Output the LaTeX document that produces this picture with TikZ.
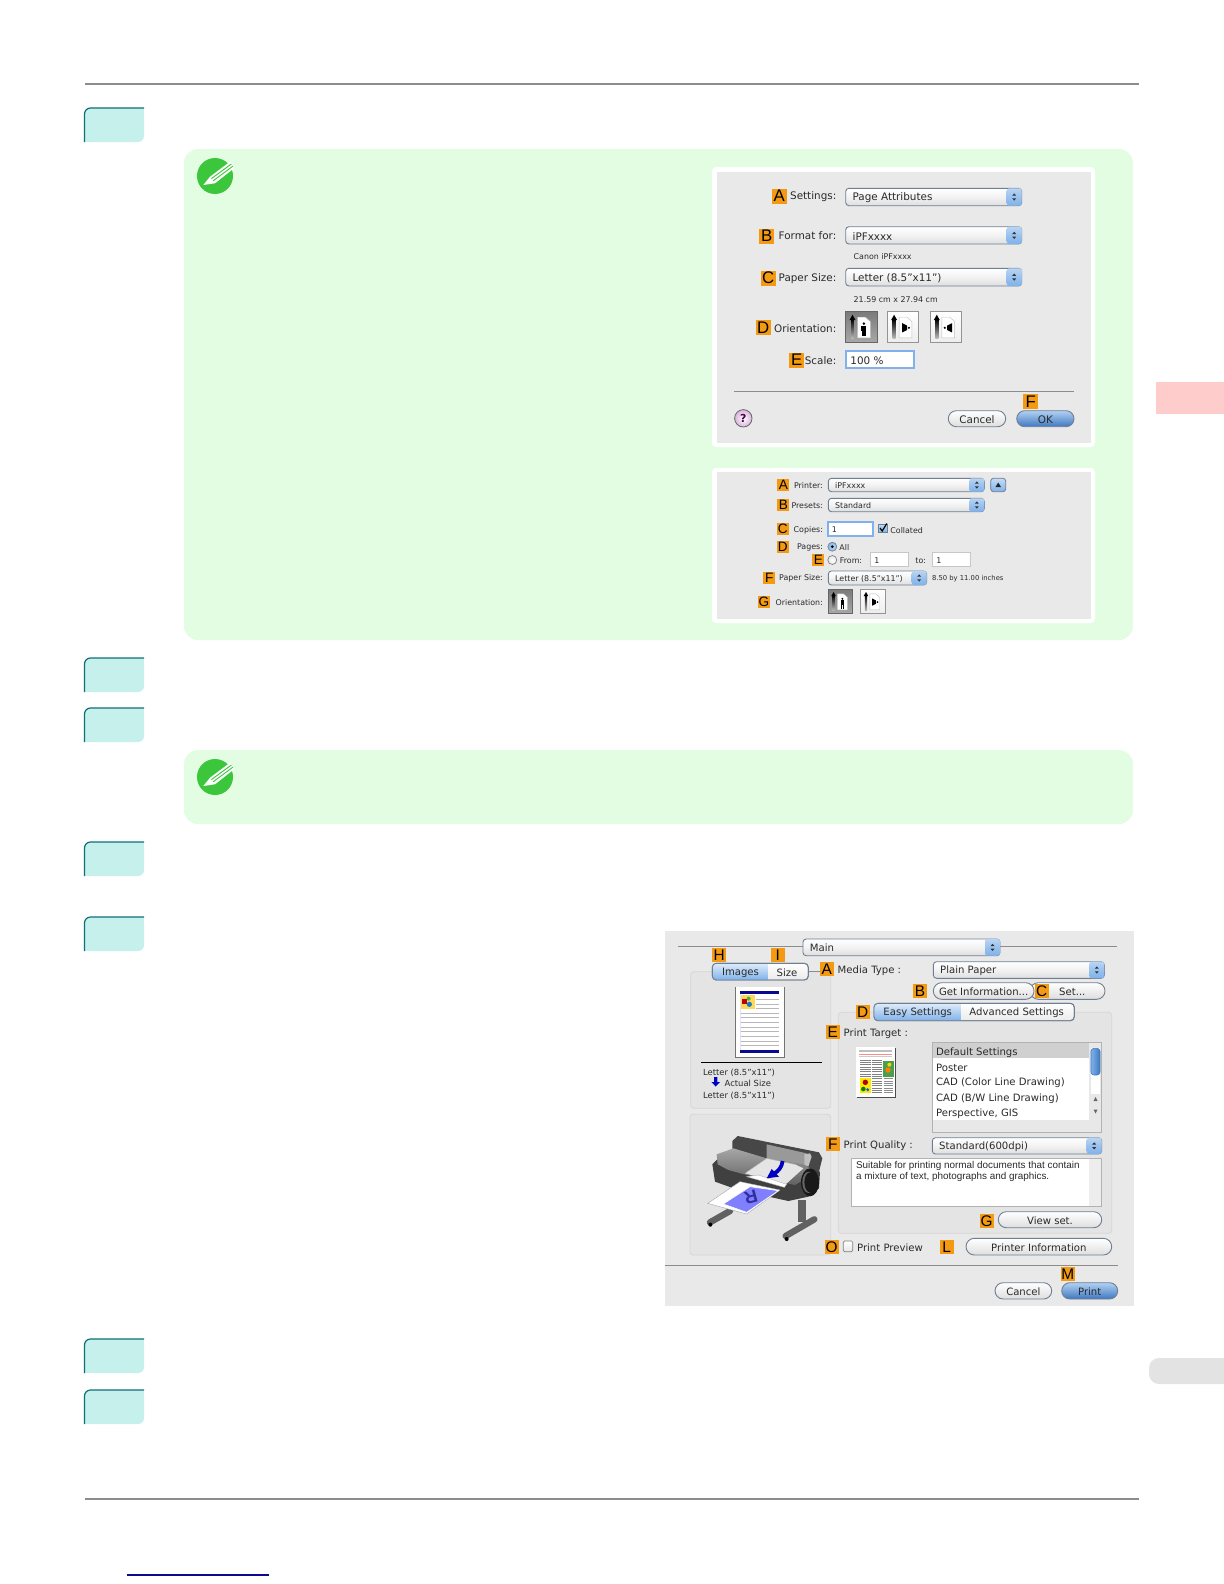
\documentclass[tikz,border=0pt]{standalone}
\usepackage{fontspec}
\setmainfont{DejaVu Sans}
\newfontfamily\lblfont{Liberation Sans}
\definecolor{panelg}{HTML}{E3FDE3}
\definecolor{tabc}{HTML}{C6F0EC}
\definecolor{tabl}{HTML}{0E6F78}
\definecolor{dlg}{HTML}{E9E9E9}
\definecolor{orlab}{HTML}{F39A12}
\definecolor{txt}{HTML}{2A2A2A}
\definecolor{bcap}{HTML}{7FB2EA}
\definecolor{bdark}{HTML}{3F78C0}
\definecolor{bedge}{HTML}{6E7F92}
\definecolor{sel}{HTML}{D0D0D0}
\definecolor{navy}{HTML}{0A0A90}
\definecolor{pgreen}{HTML}{3CC63C}
\tikzset{
  x=0.5pt,y=-0.5pt,
  olabel/.style={fill=orlab,minimum width=7.5pt,minimum height=7.5pt,inner sep=0pt,font=\lblfont\fontsize{8.4}{9}\selectfont,text=black},
  olb/.style={fill=orlab,minimum width=6pt,minimum height=6pt,inner sep=0pt,font=\lblfont\fontsize{6.8}{7}\selectfont,text=black},
  olc/.style={fill=orlab,minimum width=6.9pt,minimum height=6.9pt,inner sep=0pt,font=\lblfont\fontsize{7.7}{8}\selectfont,text=black},
  uil/.style={inner sep=0pt,anchor=west,text=txt,yshift=-.4pt},
  uir/.style={inner sep=0pt,anchor=east,text=txt,yshift=-.4pt},
  uic/.style={inner sep=0pt,anchor=center,text=txt,yshift=-.3pt},
  fa/.style={font=\fontsize{5.2}{6}\selectfont},
  fb/.style={font=\fontsize{3.95}{5}\selectfont},
  fc/.style={font=\fontsize{5.05}{6}\selectfont},
  fs/.style={font=\fontsize{3.4}{4}\selectfont},
  fd/.style={font=\lblfont\fontsize{4.95}{5.5}\selectfont},
  gbox/.style={fill=black!10.5,draw=black!16,line width=.4pt,rounded corners=1.5pt},
  field/.style={fill=white,draw=black!22,line width=.4pt},
  focusf/.style={fill=white,draw=bcap,line width=.9pt},
  rulel/.style={draw=black!45,line width=.5pt},
}
% step tab
\newcommand\steptab[2]{%
  \pgfmathsetmacro\tyb{#1+34}\pgfmathsetmacro\tym{#1+17}
  \fill[tabc,rounded corners=3pt] (84,#1) rectangle (144,\tyb);
  \fill[tabc] (84,\tym) rectangle (94,\tyb);
  \fill[tabc] (124,#1) rectangle (144,\tym);
  \draw[tabl,line width=.6pt,rounded corners=3pt] (84.5,\tyb) -- (84.5,#1) -- (144,#1);
  \coordinate (#2) at (84,#1);
}
% popup: name,x1,y1,x2,y2,style,text
\newcommand\popup[7]{%
  \pgfmathsetmacro\pxa{#4-15}\pgfmathsetmacro\pxm{#4-7.5}\pgfmathsetmacro\pym{(#3+#5)/2}\pgfmathsetmacro\ptx{#2+6.5}
  \pgfmathsetmacro\pau{\pym-1.3}\pgfmathsetmacro\pat{\pym-3.6}\pgfmathsetmacro\pad{\pym+1.3}\pgfmathsetmacro\pab{\pym+3.6}
  \pgfmathsetmacro\pql{\pxm-2}\pgfmathsetmacro\pqr{\pxm+2}
  \shade[top color=white,bottom color=black!13,middle color=black!5,rounded corners=1.6pt,draw=bedge,line width=.45pt] (#2,#3) rectangle (#4,#5);
  \shade[top color=bcap!55,bottom color=bcap,middle color=bcap!80,rounded corners=1.2pt] (\pxa,#3) rectangle (#4,#5);
  \fill[black!80] (\pql,\pau) -- (\pqr,\pau) -- (\pxm,\pat) -- cycle;
  \fill[black!80] (\pql,\pad) -- (\pqr,\pad) -- (\pxm,\pab) -- cycle;
  \node[uil,#6] (#1) at (\ptx,\pym) {#7};
}
% button: name,x1,y1,x2,y2,style,text,top,bottom
\newcommand\capsule[9]{%
  \pgfmathsetmacro\bxm{(#2+#4)/2}\pgfmathsetmacro\bym{(#3+#5)/2}\pgfmathsetmacro\brr{(#5-#3)/4}
  \shade[top color=#8,bottom color=#9,draw=bedge,line width=.45pt,rounded corners=\brr pt] (#2,#3) rectangle (#4,#5);
  \node[uic,#6] (#1) at (\bxm,\bym) {#7};
}
% orientation button: name,x,y,size(px),dark?,kind
\newcommand\oribtn[6]{%
  \begin{scope}[shift={(#2,#3)},x=#4/32*0.5pt,y=-#4/32*0.5pt]
    \ifnum#5=1
      \shade[top color=black!52,bottom color=black!34,draw=black!60,line width=.4pt] (0,0) rectangle (32,32);
    \else
      \shade[top color=white,bottom color=black!7,draw=black!42,line width=.4pt] (0,0) rectangle (32,32);
    \fi
    \shade[top color=black,bottom color=black!25] (5.4,8) rectangle (8.4,28);
    \fill[black] (3.8,9) -- (10,9) -- (6.9,3.5) -- cycle;
    \fill[white,draw=black!25,line width=.2pt] (12,6) -- (20,6) -- (25,10.5) -- (25,27) -- (12,27) -- cycle;
    \ifnum#6=0
      \fill[black] (18.5,12.5) ellipse [x radius=.35pt*#4/32*2,y radius=.35pt*#4/32*2]; \fill[black] (16,14.5) rectangle (21,20.5); \fill[black] (16.8,20.5) rectangle (18.2,25.5); \fill[black] (18.9,20.5) rectangle (20.3,25.5);
    \fi
    \ifnum#6=1
      \fill[black] (15,12) -- (20,14.5) -- (20,19) -- (15,21.5) -- cycle; \fill[black] (22,16.8) circle (.6pt*#4/32);
    \fi
    \ifnum#6=2
      \fill[black] (22.5,12) -- (17.5,14.5) -- (17.5,19) -- (22.5,21.5) -- cycle; \fill[black] (15,16.8) circle (.6pt*#4/32);
    \fi
  \end{scope}
}
\newcommand\pencil[2]{%
  \begin{scope}[shift={(#1,#2)}]
    \fill[pgreen] (0,0) circle (9pt);
    \fill[white] (-11.7,9) -- (-5,.7) -- (15,-14.3) -- (19,-7.7) -- (0,7.3) -- cycle;
    \draw[pgreen,line width=.45pt] (-3.6,2.6) -- (16.4,-12);
    \draw[pgreen,line width=.45pt] (-1.8,4.8) -- (17.8,-9.8);
  \end{scope}
}
\begin{document}
\begin{tikzpicture}
\useasboundingbox (0,0) rectangle (1224,1584);
\fill[white] (0,0) rectangle (1224,1584);
% page rules
\draw[black!45,line width=.55pt] (85,84) -- (1139,84);
\draw[black!45,line width=.55pt] (85,1499) -- (1139,1499);
\draw[navy,line width=.55pt] (127,1575) -- (269,1575);
% side tabs
\fill[red!20] (1156,382) rectangle (1224,414);
\begin{scope}
  \clip (1140,1350) rectangle (1224,1390);
  \fill[black!11,rounded corners=5pt] (1149,1358) rectangle (1235,1384);
\end{scope}
% steps
\steptab{108}{st1}
\steptab{658}{st2}
\steptab{708}{st3}
\steptab{842}{st4}
\steptab{917}{st5}
\steptab{1339}{st6}
\steptab{1390}{st7}
% note panels
\fill[panelg,rounded corners=7pt] (184,149) rectangle (1133,640);
\fill[panelg,rounded corners=7pt] (184,750) rectangle (1133,824);
\pencil{215}{176}
\pencil{215}{777}

%==== dialog 1
\fill[white,rounded corners=2pt] (712,167) rectangle (1095,447);
\fill[dlg] (717,172) rectangle (1091,443);
\node[olabel] (a1) at (779.3,196) {A};
\node[uir,fa] (a1t) at (836.7,195.5) {Settings:};
\popup{a1p}{845.7}{188.3}{1021.7}{205.7}{fa}{Page Attributes}
\node[olabel] (b1) at (766.7,236) {B};
\node[uir,fa] (b1t) at (836.7,235) {Format for:};
\popup{b1p}{845.7}{226.7}{1021.7}{244}{fa}{iPFxxxx}
\node[uil,fb] (b1s) at (853.3,256) {Canon iPFxxxx};
\node[olabel] (c1) at (768.3,278) {C};
\node[uir,fa] (c1t) at (836.7,277.5) {Paper Size:};
\popup{c1p}{845.7}{268.3}{1021.7}{286}{fa}{Letter (8.5"x11")}
\node[uil,fb] (c1s) at (853.3,298.5) {21.59 cm x 27.94 cm};
\node[olabel] (d1) at (763.3,327.7) {D};
\node[uir,fa] (d1t) at (836.7,328) {Orientation:};
\oribtn{o1}{845.7}{311.3}{31.5}{1}{0}
\oribtn{o2}{887.3}{311.3}{31.5}{0}{1}
\oribtn{o3}{930}{311.3}{31.5}{0}{2}
\node[olabel] (e1) at (796.7,360) {E};
\node[uir,fa] (e1t) at (836.7,360) {Scale:};
\draw[focusf] (845.7,350.7) rectangle (914.3,368.3);
\node[uil,fa] (e1f) at (850,360) {100 \%};
\draw[rulel] (734,391) -- (1074.3,391);
\shade[inner color=white,outer color=violet!30,draw=black!60,line width=.4pt] (743.3,418.3) circle (4.35pt);
\node[uic,fa,font=\bfseries\fontsize{5.5}{6}\selectfont,text=violet!60!black] (help) at (743.3,418.3) {?};
\capsule{cancel1}{948.3}{410.7}{1005.7}{426.7}{fa}{Cancel}{white}{black!13}
\capsule{ok1}{1016.7}{410.7}{1074}{426.7}{fa}{OK}{bcap!60}{bdark}
\node[olabel] (f1) at (1030.7,401.7) {F};

%==== dialog 2
\fill[white,rounded corners=2pt] (712,468) rectangle (1095,623);
\fill[dlg] (717,472) rectangle (1091,619);
\node[olb] (a2) at (783.3,485) {A};
\node[uir,fb] (a2t) at (823.3,485) {Printer:};
\popup{a2p}{828.3}{478.3}{984.3}{491.7}{fb}{iPFxxxx}
\shade[top color=bcap!45,bottom color=bcap,draw=bedge,line width=.4pt,rounded corners=1.4pt] (990.7,478.3) rectangle (1005.7,491.7);
\fill[black!85] (995.5,487) -- (1001,487) -- (998.2,482.5) -- cycle;
\node[olb] (b2) at (783.3,505) {B};
\node[uir,fb] (b2t) at (823.3,505) {Presets:};
\popup{b2p}{828.3}{498.3}{984.3}{511.7}{fb}{Standard}
\node[olb] (c2) at (782.7,529) {C};
\node[uir,fb] (c2t) at (823.3,529.5) {Copies:};
\draw[focusf] (828.3,521.7) rectangle (873.3,536);
\node[uil,fb] (c2f) at (831.5,529) {1};
\shade[top color=bcap!50,bottom color=bcap,draw=bedge,line width=.3pt] (878.3,524) rectangle (887.3,532.7);
\draw[black,line width=.6pt] (880,528) -- (882.2,531) -- (886.8,523.5);
\node[uil,fb] (c2c) at (890,529.5) {Collated};
\node[olb] (d2) at (782.7,546.7) {D};
\node[uir,fb] (d2t) at (823.3,546.7) {Pages:};
\shade[inner color=bcap!40,outer color=bcap,draw=bedge,line width=.3pt] (832.3,546.7) circle (2.25pt);
\fill[black] (832.3,546.7) circle (.8pt);
\node[uil,fb] (d2c) at (839,546.7) {All};
\node[olb] (e2) at (818.3,560) {E};
\shade[inner color=white,outer color=black!10,draw=black!55,line width=.3pt] (832.3,560) circle (2.25pt);
\node[uil,fb] (e2c) at (839.5,560) {From:};
\draw[field] (870.7,552.7) rectangle (908.3,566);
\node[uil,fb] (e2a) at (874,560) {1};
\node[uil,fb] (e2to) at (915,560) {to:};
\draw[field] (932.3,552.7) rectangle (970.7,566);
\node[uil,fb] (e2b) at (936,560) {1};
\node[olb] (f2) at (769.3,577.7) {F};
\node[uir,fb] (f2t) at (823.3,578) {Paper Size:};
\popup{f2p}{828.3}{571}{926.7}{585}{fb}{Letter (8.5"x11")}
\node[uil,fs] (f2s) at (931.7,578.3) {8.50 by 11.00 inches};
\node[olb] (g2) at (764,601.7) {G};
\node[uir,fb] (g2t) at (823.3,602) {Orientation:};
\oribtn{o4}{828.3}{589.3}{24.4}{1}{0}
\oribtn{o5}{860.7}{589.3}{24.4}{0}{1}

%==== dialog 3
\fill[dlg] (665,931) rectangle (1134,1306);
\draw[rulel] (678,946.7) -- (803,946.7);
\draw[rulel] (1000,946.7) -- (1116.7,946.7);
\draw[gbox] (690.7,971.7) rectangle (830.7,1108.3);
\draw[gbox] (690,1114.3) rectangle (830.7,1255);
\draw[gbox] (838.3,1012.3) rectangle (1111.7,1233.3);
\draw[rulel] (808.3,971.7) -- (820,971.7);
\popup{mainp}{803}{939}{1000}{955.7}{fc}{Main}
\node[olc] (h3) at (719.3,955.3) {H};
\node[olc] (i3) at (777.7,955.3) {I};
\shade[top color=white,bottom color=black!8,draw=bedge,line width=.45pt,rounded corners=2pt] (712.3,963.3) rectangle (808.3,980);
\begin{scope}
  \clip[rounded corners=2pt] (712.3,963.3) rectangle (808.3,980);
  \shade[top color=bcap!25,bottom color=bcap] (712.3,963.3) rectangle (767.7,980);
\end{scope}
\draw[bedge,line width=.45pt,rounded corners=2pt] (712.3,963.3) rectangle (808.3,980);
\node[uic,fc] (tabi) at (740.5,971.8) {Images};
\node[uic,fc] (tabs) at (787,971.8) {Size};
\node[olc] (a3) at (826.7,968.7) {A};
\node[uil,fc] (a3t) at (837.3,969.8) {Media Type :};
\popup{a3p}{933.3}{961.7}{1104.3}{978.3}{fc}{Plain Paper}
\capsule{set3}{1030}{982.7}{1105}{999.3}{fc}{}{white}{black!13}
\capsule{getinfo}{933.3}{982.7}{1034}{999.3}{fc}{Get Information...}{white}{black!13}
\node[olc] (b3) at (920,991.3) {B};
\node[olc] (c3) at (1041.7,991.3) {C};
\node[uic,fc] (set3t) at (1072.3,991) {Set...};
\node[olc] (d3) at (862.7,1012) {D};
\shade[top color=white,bottom color=black!8,draw=bedge,line width=.45pt,rounded corners=2pt] (874,1003.3) rectangle (1074.3,1020.7);
\begin{scope}
  \clip[rounded corners=2pt] (874,1003.3) rectangle (1074.3,1020.7);
  \shade[top color=bcap!25,bottom color=bcap] (874,1003.3) rectangle (960.7,1020.7);
\end{scope}
\draw[bedge,line width=.45pt,rounded corners=2pt] (874,1003.3) rectangle (1074.3,1020.7);
\node[uic,fc] (tabe) at (917.7,1012) {Easy Settings};
\node[uic,fc] (taba) at (1016.7,1012) {Advanced Settings};
\node[olc] (e3) at (832.7,1032.3) {E};
\node[uil,fc] (e3t) at (843.3,1032.5) {Print Target :};
% thumb 2
\begin{scope}[shift={(850,1040)},x=.5pt/3,y=-.5pt/3]
  \fill[black!70] (21,23) rectangle (138,173);
  \fill[white] (18,20) rectangle (135,170);
  \foreach \y in {30,35} \draw[black!25,line width=.2pt] (28,\y) -- (125,\y);
  \draw[red!45,line width=.25pt] (28,42) -- (125,42);
  \draw[black!20,line width=.2pt] (28,50) -- (125,50);
  \foreach \y in {60,67,...,109} \draw[black!50,line width=.25pt] (30,\y) -- (62,\y);
  \foreach \y in {60,67,...,158} \draw[black!50,line width=.25pt] (65,\y) -- (97,\y);
  \foreach \y in {116,123,...,158} \draw[black!45,line width=.25pt] (101,\y) -- (130,\y);
  \fill[green!45!black!70] (100,64) rectangle (133,110);
  \fill[orange] (114,90) circle (1.35pt);
  \fill[yellow!80!olive] (118,74) circle (1pt);
  \fill[yellow!90!orange] (31,113) rectangle (63,160);
  \fill[red!70!black] (46,127) circle (1.35pt);
  \fill[green!50!black] (40,147) circle (1.15pt);
  \fill[blue!60!cyan] (53,149) circle (.85pt);
\end{scope}
% list
\draw[fill=white,draw=black!30,line width=.4pt] (932.3,1042.3) rectangle (1101.7,1132.3);
\fill[sel] (932.8,1042.8) rectangle (1089.3,1058.3);
\fill[black!9] (932.8,1120) rectangle (1101.2,1131.8);
\fill[black!9] (1089.3,1043) rectangle (1101.2,1120);
\fill[white] (1091,1048) rectangle (1100,1094);
\shade[left color=bcap,right color=bdark,rounded corners=1.5pt,draw=bdark,line width=.3pt] (1091,1048.3) rectangle (1100,1075);
\fill[black!60] (1093.5,1101) -- (1097.5,1101) -- (1095.5,1097) -- cycle;
\fill[black!60] (1093.5,1109.5) -- (1097.5,1109.5) -- (1095.5,1113.5) -- cycle;
\node[uil,fc] (l1) at (935.7,1051.5) {Default Settings};
\node[uil,fc] (l2) at (935.7,1067) {Poster};
\node[uil,fc] (l3) at (935.7,1082.3) {CAD (Color Line Drawing)};
\node[uil,fc] (l4) at (935.7,1097.7) {CAD (B/W Line Drawing)};
\node[uil,fc] (l5) at (935.7,1113.3) {Perspective, GIS};
\node[olc] (f3) at (832.7,1143.7) {F};
\node[uil,fc] (f3t) at (843.3,1145) {Print Quality :};
\popup{f3p}{932.3}{1137.7}{1101.7}{1154}{fc}{Standard(600dpi)}
\draw[fill=white,draw=black!30,line width=.4pt] (851.7,1158.3) rectangle (1101.7,1206.7);
\fill[black!7] (1089.3,1158.8) rectangle (1101.2,1206.2);
\node[uil,fd] (pq1) at (855.7,1164.7) {Suitable for printing normal documents that contain};
\node[uil,fd] (pq2) at (855.7,1176) {a mixture of text, photographs and graphics.};
\node[olc] (g3) at (986.7,1220.7) {G};
\capsule{viewset}{998.3}{1211.7}{1101.7}{1227.7}{fc}{View set.}{white}{black!13}
\node[olc] (o3) at (831.7,1246.7) {O};
\shade[top color=white,bottom color=black!10,draw=black!50,line width=.35pt,rounded corners=.6pt] (843.3,1241) rectangle (852.7,1251.7);
\node[uil,fc] (o3t) at (856.7,1246.7) {Print Preview};
\node[olc] (l3lab) at (946.7,1246.7) {L};
\capsule{prinfo}{966}{1238.3}{1111.7}{1255}{fc}{Printer Information}{white}{black!13}
\draw[rulel] (665,1265) -- (1118.3,1265);
\node[olc] (m3) at (1067.7,1274.3) {M};
\capsule{cancel3}{995}{1282.7}{1051.7}{1299}{fc}{Cancel}{white}{black!13}
\capsule{print3}{1061.7}{1282.7}{1117.7}{1299}{fc}{Print}{bcap!60}{bdark}
% page thumb
\begin{scope}[shift={(730,980)},x=.5pt/3,y=-.5pt/3]
  \fill[black!55] (15,20) rectangle (165,235);
  \fill[white] (18,21) rectangle (162,232);
  \fill[blue!12] (30,33) rectangle (148,218);
  \fill[white] (32,33) rectangle (146,218);
  \fill[navy] (30,33) rectangle (148,42);
  \fill[navy] (30,210) rectangle (148,218);
  \foreach \y in {57,73,86} \draw[black!28,line width=.35pt] (78,\y) -- (148,\y);
  \foreach \y in {100,113,127,142,155,170,183,197} \draw[black!28,line width=.35pt] (32,\y) -- (148,\y);
  \fill[yellow!60!orange!65] (33,45) rectangle (75,87);
  \fill[red!75!black] (36,56) rectangle (50,72);
  \fill[cyan!60!blue] (58,73) circle (1.3pt);
  \fill[green!55!black!70] (56,56) circle (1pt);
\end{scope}
\draw[black,line width=.5pt] (701,1062.3) -- (822.3,1062.3);
\node[uil,fb,font=\fontsize{4.2}{5}\selectfont] (t1) at (702.7,1072) {Letter (8.5"x11")};
\node[uil,fb,font=\fontsize{4.2}{5}\selectfont] (t2) at (724.3,1083) {Actual Size};
\node[uil,fb,font=\fontsize{4.2}{5}\selectfont] (t3) at (702.7,1095) {Letter (8.5"x11")};
\fill[blue!75!black] (714,1077) -- (717.4,1077) -- (717.4,1082) -- (720,1082) -- (715.7,1086.5) -- (711.4,1082) -- (714,1082) -- cycle;
% printer
\begin{scope}[shift={(695,1125)},x=.5pt/3,y=-.5pt/3]
  % stand
  \fill[black!62] (308,225) rectangle (333,290);
  \draw[black!62,line width=3.2pt,line cap=round] (272,333) -- (358,283);
  \draw[black!62,line width=3.2pt,line cap=round] (45,292) -- (105,258);
  \fill[black] (46,299) circle (1pt);
  \fill[black] (275,342) circle (1pt);
  % rear roll
  \fill[black!72] (112,48) -- (128,33) -- (372,82) -- (382,100) -- (372,140) -- (112,90) -- cycle;
  \fill[black!40] (215,58) -- (335,85) -- (328,125) -- (215,105) -- cycle;
  \fill[black!25] (328,88) -- (345,85) -- (350,95) -- (340,125) -- (328,120) -- cycle;
  % main body
  \fill[black!75] (52,118) -- (70,100) -- (340,130) -- (375,140) -- (372,190) -- (340,215) -- (280,228) -- (130,195) -- (60,170) -- cycle;
  % front cover
  \shade[top color=black!35,middle color=black!8,bottom color=black!62] (65,88) -- (115,70) -- (215,100) -- (325,118) -- (345,130) -- (325,165) -- (300,180) -- (155,150) -- (100,135) -- (68,118) -- cycle;
  \fill[black!10] (150,145) -- (215,100) -- (300,118) -- (325,130) -- (272,178) -- cycle;
  \draw[black!30,line width=.25pt] (150,145) -- (215,100) -- (300,118);
  % end cap
  \fill[black!90] (345,172) ellipse [x radius=4.5pt,y radius=7pt];
  \fill[black!60] (340,172) ellipse [x radius=3pt,y radius=5.3pt];
  \fill[black!90] (345,172) ellipse [x radius=2.8pt,y radius=5pt];
  % chute
  \fill[white,draw=black!30,line width=.2pt] (155,155) -- (190,150) -- (275,178) -- (268,187) -- cycle;
  % sheet
  \fill[white,draw=black!35,line width=.2pt] (38,235) -- (135,170) -- (255,195) -- (155,267) -- cycle;
  \fill[blue!50!white,draw=white,line width=.3pt] (85,237) -- (165,185) -- (250,197) -- (155,262) -- cycle;
  \node[inner sep=0,rotate=195,text=navy!85,font=\lblfont\bfseries\fontsize{9}{10}\selectfont] (rglyph) at (168,215) {R};
  % arrow
  \draw[blue!75!black,line width=1.9pt] (263,108) to[bend left=25] (237,146);
  \fill[blue!75!black] (215,160) -- (230,132) -- (252,155) -- cycle;
\end{scope}
\end{tikzpicture}
\end{document}
